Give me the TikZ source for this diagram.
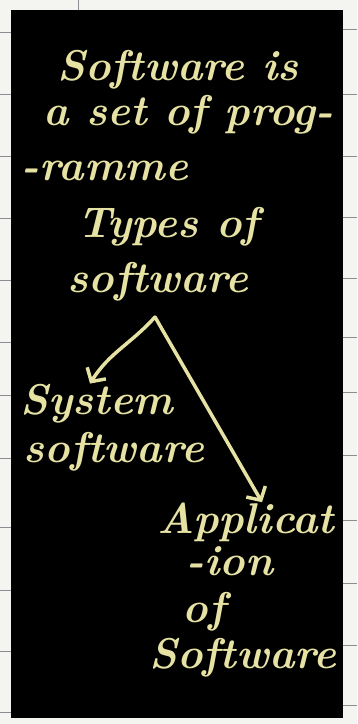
\documentclass[tikz,border=0pt]{standalone}
\usepackage{fontspec}
\usepackage{tikz}
\usetikzlibrary{arrows.meta,positioning}
\definecolor{chalk}{HTML}{E6E2A4}
\definecolor{paper}{HTML}{F4F4F1}
\definecolor{rule}{HTML}{8A8C92}

\begin{document}
\begin{tikzpicture}[x=1pt,y=-1pt]
\tikzstyle{word}=[text=chalk,font=\fontsize{43}{48}\selectfont\bfseries\itshape,inner sep=0pt,anchor=base]
\tikzstyle{arr}=[draw=chalk,line width=3.5pt,line cap=round,line join=round,-{Straight Barb[length=10pt,width=22pt]}]
\useasboundingbox (0,0) rectangle (357,724);
\fill[paper] (0,0) rectangle (357,724);
\foreach \y in {32,94,156,218,280,342,395,458,527,590,651,712}
  \draw[rule,line width=0.8pt] (0,\y) -- (11,\y);
\foreach \y in {29,94,156,217,278,337,392,455,520,583,645,705}
  \draw[rule,line width=0.8pt] (343,\y) -- (357,\y);
\draw[rule,line width=0.8pt] (78,0) -- (78,10);
\fill[black] (11,10) rectangle (343,718);
\node [word] (s1) at(178,80) {Software is};
\node [word] (s2) at(188,125) {a set of prog-};
\node [word] (s3) at(105,180) {-ramme};
\node [word] (t1) at(168,237) {Types of};
\node [word] (t2) at(158,292) {software};
\node [word] (y1) at(97,414) {System};
\node [word] (y2) at(114,462) {software};
\node [word] (a1) at(246,533) {Applicat};
\node [word] (a2) at(230,575) {-ion};
\node [word] (a3) at(204,622) {of};
\node [word] (a4) at(243,668) {Software};
\coordinate (fork) at(155,317);
\path[arr] (fork) to[out=228,in=58] (y1.north west -| 90,381);
\path[arr] (fork) -- (a1.north -| 262,470);
\end{tikzpicture}
\end{document}
